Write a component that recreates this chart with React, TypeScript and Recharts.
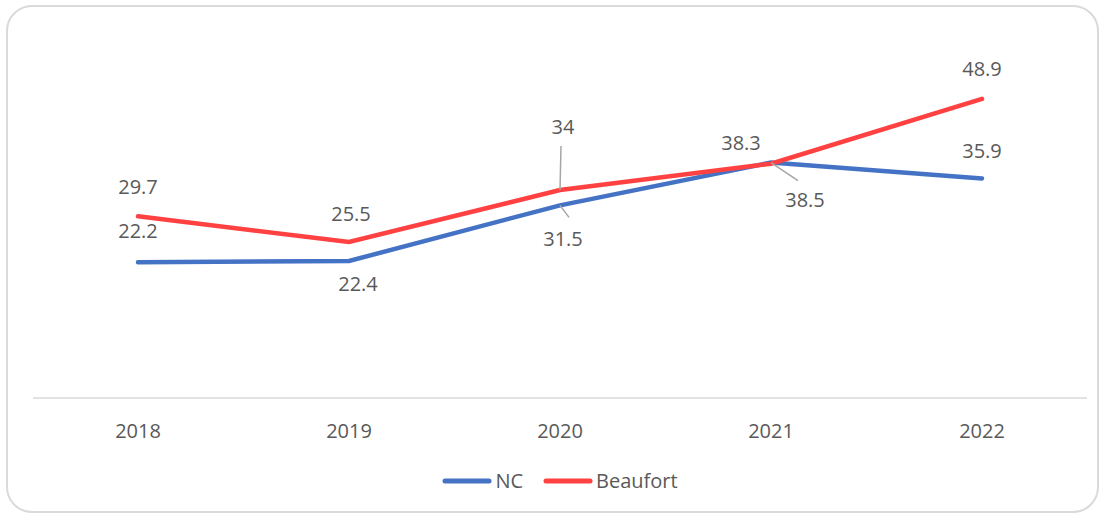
import * as React from 'react';
import { LabelList, Legend, Line, LineChart, XAxis, YAxis } from 'recharts';

const years = ['2018', '2019', '2020', '2021', '2022'];
const ncValues = [22.2, 22.4, 31.5, 38.5, 35.9];
const beaufortValues = [29.7, 25.5, 34, 38.3, 48.9];

// label placement relative to each point [dx, dy]; leader end relative to the point (null = no leader)
const ncLabelOffsets = [[0, -32], [9, 23], [3, 33], [34, 37], [0, -28]];
const ncLeaders = [null, null, [9, 12], [27, 18], null];
const beaufortLabelOffsets = [[0, -30], [2, -29], [3, -64], [-30, -21], [0, -30]];
const beaufortLeaders = [null, null, [1, -44], null, null];

const TEXT = '#595959';
const FONT = '"Open Sans", "Noto Sans", sans-serif';
const BLUE = '#4472C4';
const RED = '#FF4141';

const data = years.map((year, i) => ({ year, nc: ncValues[i], beaufort: beaufortValues[i] }));

function makeLabel(offsets: number[][], leaders: (number[] | null)[]) {
  return function PointLabel(props: any): React.JSX.Element | null {
    const { x, y, value, index } = props;
    if (x == null || y == null) return null;
    const [dx, dy] = offsets[index];
    const end = leaders[index];
    return (
      <g>
        {end && (
          <line x1={x} y1={y} x2={x + end[0]} y2={y + end[1]} stroke="#a6a6a6" strokeWidth={1.5} />
        )}
        <text
          x={x + dx}
          y={y + dy}
          textAnchor="middle"
          dominantBaseline="central"
          fill={TEXT}
          fontSize={20}
          fontFamily={FONT}
        >
          {value}
        </text>
      </g>
    );
  };
}

function LegendContent(): React.JSX.Element {
  const items = [
    { name: 'NC', color: BLUE },
    { name: 'Beaufort', color: RED },
  ];
  return (
    <div
      style={{
        display: 'flex',
        justifyContent: 'center',
        gap: 20,
        fontFamily: FONT,
        fontSize: 20,
        color: TEXT,
        transform: 'translateY(-7px)',
      }}
    >
      {items.map((it) => (
        <div key={it.name} style={{ display: 'flex', alignItems: 'center' }}>
          <svg width={50} height={10} style={{ marginRight: 3 }}>
            <line x1={3} y1={5} x2={47} y2={5} stroke={it.color} strokeWidth={5} strokeLinecap="round" />
          </svg>
          <span>{it.name}</span>
        </div>
      ))}
    </div>
  );
}

export default function App(): React.JSX.Element {
  return (
    <div style={{ position: 'absolute', left: 0, top: 0, width: 1101, height: 514, background: '#fff', overflow: 'hidden' }}>
      <div
        style={{
          position: 'absolute',
          left: 6,
          top: 5,
          width: 1093,
          height: 508,
          border: '2px solid #dadada',
          borderRadius: 26,
          boxSizing: 'border-box',
        }}
      />
      <div style={{ position: 'absolute', left: 0, top: 0 }}>
        <LineChart width={1101} height={514} data={data} margin={{ top: 31, right: 14, bottom: 0, left: 33 }}>
          <XAxis
            dataKey="year"
            padding={{ left: 105, right: 105 }}
            axisLine={{ stroke: '#d9d9d9', strokeWidth: 1.5 }}
            tickLine={false}
            tickMargin={20}
            height={76}
            tick={{ fill: TEXT, fontSize: 20, fontFamily: FONT }}
          />
          <YAxis hide domain={[0, 60]} />
          <Legend verticalAlign="bottom" height={40} content={<LegendContent />} />
          <Line
            dataKey="nc"
            name="NC"
            type="linear"
            stroke={BLUE}
            strokeWidth={4.5}
            strokeLinecap="round"
            dot={false}
            isAnimationActive={false}
          >
            <LabelList dataKey="nc" content={makeLabel(ncLabelOffsets, ncLeaders)} />
          </Line>
          <Line
            dataKey="beaufort"
            name="Beaufort"
            type="linear"
            stroke={RED}
            strokeWidth={4.5}
            strokeLinecap="round"
            dot={false}
            isAnimationActive={false}
          >
            <LabelList dataKey="beaufort" content={makeLabel(beaufortLabelOffsets, beaufortLeaders)} />
          </Line>
        </LineChart>
      </div>
    </div>
  );
}
